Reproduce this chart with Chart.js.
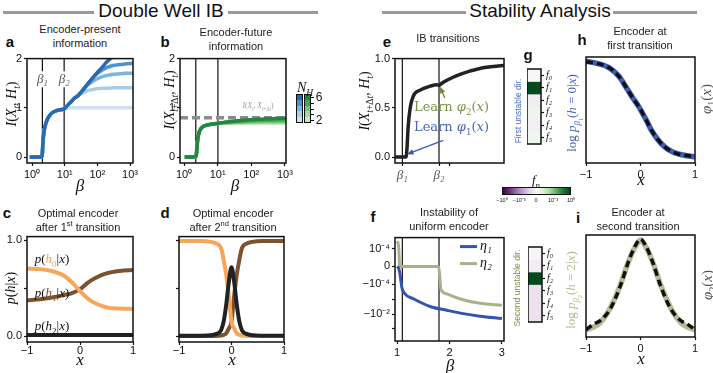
<!DOCTYPE html>
<html><head><meta charset="utf-8">
<script src="https://cdn.jsdelivr.net/npm/chart.js@4.4.1/dist/chart.umd.min.js"></script>
<style>
  body { margin:0; width:713px; height:373px; position:relative; overflow:hidden; background:#fff;
         font-family:"Liberation Sans", Arial, sans-serif; color:#111; }
  canvas { position:absolute; }
  .t { position:absolute; white-space:nowrap; transform:translate(-50%,-50%); line-height:14px; text-align:center; z-index:2; }
  .lt { transform:translate(0,-50%); }
  .rot { transform:translate(-50%,-50%) rotate(-90deg); }
  .m { font-family:"Liberation Serif", "DejaVu Serif", serif; }
  .dv { font-family:"DejaVu Serif", serif; }
  sub, sup { font-size:68%; line-height:0; }
  .ttl { font-size:11px; color:#222; }
  .pl { font-size:15px; font-weight:bold; }
  .hd { font-size:19px; color:#111; }
  .bar { position:absolute; height:3px; background:#9a9a9a; }
  .cb { position:absolute; border:1px solid #111; box-sizing:border-box; }
  .tk { position:absolute; width:3px; height:1px; background:#111; }
</style></head><body>

<div class="bar" style="left:3px;top:11px;width:91px"></div>
<div class="t hd" style="left:161px;top:11px">Double Well IB</div>
<div class="bar" style="left:228px;top:11px;width:90px"></div>
<div class="bar" style="left:382px;top:11px;width:84px"></div>
<div class="t hd" style="left:540px;top:11px">Stability Analysis</div>
<div class="bar" style="left:613px;top:11px;width:84px"></div>

<div class="t pl" style="left:10px;top:42px">a</div>
<div class="t pl" style="left:165px;top:42px">b</div>
<div class="t pl" style="left:7px;top:213px">c</div>
<div class="t pl" style="left:165px;top:213px">d</div>
<div class="t pl" style="left:387px;top:42px">e</div>
<div class="t pl" style="left:528px;top:55px">g</div>
<div class="t pl" style="left:582px;top:40px">h</div>
<div class="t pl" style="left:373px;top:217px">f</div>
<div class="t pl" style="left:578px;top:218px">i</div>

<div class="t ttl" style="left:80px;top:36px">Encoder-present<br>information</div>
<div class="t ttl" style="left:236px;top:39px">Encoder-future<br>information</div>
<div class="t ttl" style="left:78px;top:220px">Optimal encoder<br>after 1<sup>st</sup> transition</div>
<div class="t ttl" style="left:233px;top:220px">Optimal encoder<br>after 2<sup>nd</sup> transition</div>
<div class="t ttl" style="left:448px;top:38px">IB transitions</div>
<div class="t ttl" style="left:640px;top:38px">Encoder at<br>first transition</div>
<div class="t ttl" style="left:449px;top:219px">Instability of<br>uniform encoder</div>
<div class="t ttl" style="left:638px;top:219px">Encoder at<br>second transition</div>

<!-- axis labels -->
<div class="t m rot" style="left:12px;top:104px;font-size:14px"><i>I</i>(<i>X</i><sub><i>t</i></sub>, <i>H</i><sub><i>t</i></sub>)</div>
<div class="t m rot" style="left:170px;top:100px;font-size:14px"><i>I</i>(<i>X</i><sub><i>t</i>+Δ<i>t</i></sub>, <i>H</i><sub><i>t</i></sub>)</div>
<div class="t m rot" style="left:365px;top:101px;font-size:14px"><i>I</i>(<i>X</i><sub><i>t</i>+Δ<i>t</i></sub>, <i>H</i><sub><i>t</i></sub>)</div>
<div class="t m rot" style="left:11px;top:288px;font-size:14px"><i>p</i>(<i>h</i>|<i>x</i>)</div>
<div class="t m" style="left:80px;top:186px;font-size:17px"><i>β</i></div>
<div class="t m" style="left:235px;top:186px;font-size:17px"><i>β</i></div>
<div class="t m" style="left:80px;top:360px;font-size:17px"><i>x</i></div>
<div class="t m" style="left:232px;top:360px;font-size:17px"><i>x</i></div>
<div class="t m" style="left:450px;top:366px;font-size:17px"><i>β</i></div>
<div class="t m" style="left:641px;top:180px;font-size:17px"><i>x</i></div>
<div class="t m" style="left:641px;top:359px;font-size:17px"><i>x</i></div>
<div class="t m rot" style="left:573px;top:113px;font-size:13px;color:#4262b8">log <i>p</i><sub><i>β</i><sub>1</sub></sub>(<i>h</i> = 0|<i>x</i>)</div>
<div class="t m rot" style="left:706px;top:99px;font-size:15px;color:#555"><i>φ</i><sub>1</sub>(<i>x</i>)</div>
<div class="t m rot" style="left:572px;top:290px;font-size:13px;color:#b2ba90">log <i>p</i><sub><i>β</i><sub>2</sub></sub>(<i>h</i> = 2|<i>x</i>)</div>
<div class="t m rot" style="left:707px;top:285px;font-size:15px;color:#555"><i>φ</i><sub>2</sub>(<i>x</i>)</div>
<div class="t rot" style="left:518px;top:111px;font-size:8.5px;color:#5070c0">First unstable dir.</div>
<div class="t rot" style="left:517px;top:288px;font-size:8.5px;color:#7d9447">Second unstable dir.</div>

<!-- in-plot notes -->
<div class="t m" style="left:52px;top:259px;font-size:13px"><i>p</i>(<i style="color:#f5a35a">h</i><sub style="color:#f5a35a">0</sub>|<i>x</i>)</div>
<div class="t m" style="left:52px;top:293px;font-size:13px"><i>p</i>(<i style="color:#7a5331">h</i><sub style="color:#7a5331">1</sub>|<i>x</i>)</div>
<div class="t m" style="left:52px;top:326px;font-size:13px"><i>p</i>(<i>h</i><sub>2</sub>|<i>x</i>)</div>
<div class="t dv lt" style="left:414px;top:107px;font-size:13px;color:#7d9447">Learn <i>φ</i><sub>2</sub>(<i>x</i>)</div>
<div class="t dv lt" style="left:414px;top:127px;font-size:13px;color:#4a66bb">Learn <i>φ</i><sub>1</sub>(<i>x</i>)</div>
<div class="t m" style="left:258px;top:106px;font-size:7.5px;color:#999"><i>I</i>(<i>X</i><sub><i>t</i></sub>, <i>X</i><sub><i>t</i>+Δ<i>t</i></sub>)</div>

<!-- N_H colour bars -->
<div class="t m" style="left:305px;top:88px;font-size:14px"><i>N</i><sub><i>H</i></sub></div>
<div id="cbBlue" class="cb" style="left:296px;top:94px;width:7px;height:29px"></div>
<div id="cbGreen" class="cb" style="left:304px;top:94px;width:7px;height:29px"></div>
<div id="cbTicks"></div>
<div class="t" style="left:319px;top:97px;font-size:12px">6</div>
<div class="t" style="left:319px;top:120px;font-size:12px">2</div>

<!-- f_n colour bar -->
<div class="t m" style="left:536px;top:180px;font-size:13px"><i>f</i><sub><i>n</i></sub></div>
<div id="cbFn" class="cb" style="left:502px;top:187px;width:69px;height:8px"></div>
<div class="t" style="left:502px;top:200px;font-size:5.5px">−10⁰</div>
<div class="t" style="left:519px;top:200px;font-size:5.5px">−10⁻³</div>
<div class="t" style="left:536px;top:200px;font-size:5.5px">0</div>
<div class="t" style="left:553px;top:200px;font-size:5.5px">10⁻³</div>
<div class="t" style="left:571px;top:200px;font-size:5.5px">10⁰</div>

<script>
const SANS = '"Liberation Sans", Arial, sans-serif';
const SERIF = '"Liberation Serif", "DejaVu Serif", serif';

// ---------- data ----------
// panel a: encoder-present information, one curve per N_H (6 .. 2)
const betaA = [0.85, 1, 1.5, 1.9, 2.05, 2.15, 2.3, 2.6, 3, 3.5, 4, 5, 6.5, 8, 9.5, 11, 13, 16, 20, 25, 30, 40, 50, 70, 100, 150, 200, 300, 500, 700, 1000, 1250];
const infoA6 = [0,0,0,0,0.05,0.3,0.5,0.67,0.78,0.85,0.89,0.93,0.955,0.965,0.975,1.02,1.07,1.13,1.2,1.24,1.3,1.4,1.48,1.6,1.72,1.85,1.94,2.05,2.18,2.24,2.3,2.33];
const infoA5 = [0,0,0,0,0.05,0.3,0.5,0.67,0.78,0.85,0.89,0.93,0.955,0.965,0.975,1.02,1.07,1.13,1.2,1.24,1.3,1.4,1.48,1.6,1.7,1.78,1.82,1.86,1.88,1.89,1.9,1.9];
const infoA4 = [0,0,0,0,0.05,0.3,0.5,0.67,0.78,0.85,0.89,0.93,0.955,0.965,0.975,1.02,1.07,1.13,1.2,1.24,1.3,1.4,1.46,1.53,1.59,1.64,1.66,1.68,1.69,1.7,1.7,1.7];
const infoA3 = [0,0,0,0,0.05,0.3,0.5,0.67,0.78,0.85,0.89,0.93,0.955,0.965,0.975,1.02,1.07,1.13,1.2,1.24,1.28,1.32,1.35,1.37,1.39,1.4,1.4,1.41,1.41,1.41,1.41,1.41];
const infoA2 = [0,0,0,0,0.05,0.3,0.5,0.67,0.78,0.85,0.89,0.93,0.955,0.965,0.975,0.99,1.0,1.0,1.0,1.0,1.0,1.0,1.0,1.0,1.0,1.0,1.0,1.0,1.0,1.0,1.0,1.0];
const betaMarksA = [2.07, 9.6];

// panel b: encoder-future information
const betaB = [1.05, 1.5, 2.0, 2.3, 2.4, 2.55, 2.8, 3.2, 3.7, 4.5, 5.8, 8, 11, 15, 20, 30, 50, 100, 200, 400, 700, 1100];
const infoB6 = [0,0,0,0.02,0.15,0.35,0.5,0.58,0.62,0.645,0.66,0.675,0.69,0.705,0.715,0.73,0.745,0.76,0.77,0.78,0.785,0.79];
const infoB5 = [0,0,0,0.02,0.15,0.35,0.5,0.58,0.62,0.645,0.66,0.675,0.69,0.7,0.71,0.72,0.735,0.745,0.75,0.755,0.757,0.76];
const infoB4 = [0,0,0,0.02,0.15,0.35,0.5,0.58,0.62,0.645,0.66,0.675,0.69,0.695,0.7,0.705,0.71,0.72,0.725,0.73,0.73,0.73];
const infoB3 = [0,0,0,0.02,0.15,0.35,0.5,0.58,0.62,0.645,0.66,0.675,0.688,0.69,0.69,0.695,0.7,0.705,0.707,0.71,0.71,0.71];
const infoB2 = [0,0,0,0.02,0.15,0.35,0.5,0.58,0.62,0.645,0.66,0.675,0.685,0.683,0.683,0.683,0.683,0.683,0.683,0.683,0.683,0.683];
const futureInfo = 0.8;
const betaMarksB = [2.24, 10.2];

// panel c: optimal encoder after 1st transition
const xC = [-1, -0.75, -0.5, -0.3, -0.15, 0, 0.15, 0.3, 0.5, 0.75, 1];
const h0C = [0.706, 0.7, 0.675, 0.63, 0.56, 0.47, 0.39, 0.34, 0.3, 0.287, 0.284];
const h1C = [0.375, 0.385, 0.405, 0.43, 0.45, 0.49, 0.56, 0.61, 0.655, 0.68, 0.69];
const h2C = [0.01, 0.01, 0.01, 0.01, 0.01, 0.01, 0.01, 0.01, 0.01, 0.01, 0.01];

// panel d: optimal encoder after 2nd transition
const xD = [-1, -0.6, -0.4, -0.3, -0.2, -0.15, -0.1, -0.05, 0, 0.05, 0.1, 0.15, 0.2, 0.3, 0.4, 0.6, 1];
const h0D = [0.995, 0.993, 0.985, 0.97, 0.92, 0.8, 0.64, 0.42, 0.15, 0.08, 0.03, 0.012, 0.005, 0.002, 0.002, 0.002, 0.002];
const h1D = [0.002, 0.002, 0.002, 0.002, 0.005, 0.012, 0.03, 0.08, 0.15, 0.42, 0.64, 0.8, 0.92, 0.97, 0.985, 0.993, 0.995];
const h2D = [0.003, 0.004, 0.008, 0.02, 0.06, 0.15, 0.33, 0.57, 0.72, 0.57, 0.33, 0.15, 0.06, 0.02, 0.008, 0.004, 0.003];

// panel e: IB transitions
const betaE = [0.96, 1.1, 1.17, 1.19, 1.21, 1.25, 1.31, 1.44, 1.63, 1.76, 1.8, 1.84, 1.95, 2.2, 2.58, 3.04];
const infoE = [0, 0, 0, 0.1, 0.3, 0.5, 0.62, 0.68, 0.72, 0.735, 0.728, 0.745, 0.78, 0.84, 0.9, 0.93];
const betaMarksE = [1.1, 1.8];

// panel f: eigenvalues of the uniform encoder (symlog axis)
const betaF1 = [1.0, 1.03, 1.055, 1.09, 1.15, 1.31, 1.63, 1.95, 2.26, 2.58, 3.0];
const eta1 = [0, -0.1e-4, -0.42e-4, -1.6e-4, -4.4e-4, -9.4e-4, -3.1e-3, -5.6e-3, -9.4e-3, -1.4e-2, -2e-2];
const betaF2 = [1.01, 1.03, 1.05, 1.1, 1.4, 1.79, 1.81, 1.83, 1.86, 1.95, 2.26, 2.58, 3.0];
const eta2 = [3.2e-4, 1.2e-4, 0, 0, 0, 0, -0.4e-4, -1.6e-4, -3e-4, -4.4e-4, -1.1e-3, -1.9e-3, -2.6e-3];
const symTicksF = [1e-4, 0, -1e-4, -1e-3, -1e-2, -1e-1];
const symLabelsF = ['10⁻⁴', '0', '−10⁻⁴', '', '−10⁻²', ''];

// panels g: unstable directions, f_n components
const fnRows = ['f₀', 'f₁', 'f₂', 'f₃', 'f₄', 'f₅'];
const fnFirst = [0.00002, 0.7, -0.00012, 0.00012, -0.0001, 0.0001];
const fnSecond = [-0.00003, -0.00012, 0.7, -0.00025, -0.00025, -0.00025];

// panels h, i: encoders at the transitions
const xH = [-1, -0.8, -0.58, -0.4, -0.27, -0.15, -0.03, 0.1, 0.2, 0.32, 0.45, 0.57, 0.69, 0.85, 1];
const logp1 = [0.96, 0.94, 0.9, 0.82, 0.72, 0.62, 0.53, 0.41, 0.31, 0.22, 0.15, 0.11, 0.085, 0.068, 0.06];
const phi1 = [0.955, 0.94, 0.9, 0.82, 0.72, 0.62, 0.53, 0.41, 0.31, 0.22, 0.15, 0.11, 0.085, 0.07, 0.06];
const xI = [-1, -0.85, -0.74, -0.55, -0.37, -0.22, -0.09, 0, 0.09, 0.22, 0.37, 0.55, 0.74, 0.85, 1];
const logp2 = [0.07, 0.1, 0.14, 0.29, 0.51, 0.74, 0.89, 0.95, 0.89, 0.74, 0.51, 0.29, 0.14, 0.1, 0.07];
const phi2 = [0.07, 0.13, 0.16, 0.28, 0.5, 0.74, 0.9, 0.96, 0.9, 0.74, 0.5, 0.28, 0.16, 0.13, 0.07];

// colours
const blues = ['#2a69b0', '#5093ca', '#7db4dc', '#a9cce7', '#cfe1f1'];
const greens = ['#22873f', '#43a55a', '#74c27a', '#a3d79c', '#cbe8c3'];
const orange = '#f7a65c', brown = '#7a5331', dark = '#222';
const etaColors = ['#3553b0', '#a8b28a'];
const prgn = ['#40004b','#762a83','#9970ab','#c2a5cf','#e7d4e8','#f7f7f7','#d9f0d3','#a6dba0','#5aae61','#1b7837','#00441b'];

// colour map for f_n: symlog (linthresh 1e-3) onto PRGn
function fnColor(v) {
  const a = Math.abs(v);
  const s = a <= 1e-3 ? a / 1e-3 * 0.25 : 0.25 + 0.25 * (Math.log10(a) + 3) / 3;
  const p = Math.min(1, 0.5 + Math.sign(v) * s) * 10;
  const i = Math.min(9, Math.floor(p)), f = p - i;
  const h = c => [1, 3, 5].map(k => parseInt(c.substr(k, 2), 16));
  const c0 = h(prgn[i]), c1 = h(prgn[i + 1]);
  return 'rgb(' + c0.map((x, k) => Math.round(x + (c1[k] - x) * f)).join(',') + ')';
}

// legends made of divs
const stops = (cols, dir) => 'linear-gradient(' + dir + ',' + cols.map((c, i) => c + ' ' + (i * 20) + '%,' + c + ' ' + ((i + 1) * 20) + '%').join(',') + ')';
document.getElementById('cbBlue').style.background = stops(blues, 'to bottom');
document.getElementById('cbGreen').style.background = stops(greens, 'to bottom');
document.getElementById('cbTicks').innerHTML = [0,1,2,3,4].map(k => `<div class="tk" style="left:311px;top:${Math.round(94 + 29 * (k + 0.5) / 5)}px"></div>`).join('');
document.getElementById('cbFn').style.background = 'linear-gradient(to right,' + prgn.map((c, i) => c + ' ' + i * 10 + '%').join(',') + ')';

// ---------- symlog scale for panel f ----------
const LIN = 1e-4, LSC = 1.2;
function symT(v) { const a = Math.abs(v); return Math.sign(v) * (a <= LIN ? a / LIN * LSC : LSC + Math.log10(a / LIN)); }
function symInv(t) { const a = Math.abs(t); return Math.sign(t) * (a <= LSC ? a / LSC * LIN : LIN * Math.pow(10, a - LSC)); }
class SymlogScale extends Chart.LinearScale {
  getPixelForValue(v) {
    const t0 = symT(this.min), t1 = symT(this.max);
    return this.getPixelForDecimal((symT(v) - t0) / (t1 - t0));
  }
  getValueForPixel(p) {
    const t0 = symT(this.min), t1 = symT(this.max);
    return symInv(t0 + this.getDecimalForPixel(p) * (t1 - t0));
  }
}
SymlogScale.id = 'symlog';
SymlogScale.defaults = Chart.LinearScale.defaults;
Chart.register(SymlogScale);

// ---------- plugins ----------
const frame = {
  id: 'frame',
  afterDraw(ch) {
    const a = ch.chartArea, c = ch.ctx;
    c.save(); c.strokeStyle = '#111'; c.lineWidth = 1.5;
    c.strokeRect(a.left, a.top, a.right - a.left, a.bottom - a.top);
    c.restore();
  }
};
const marks = {
  id: 'marks',
  afterDatasetsDraw(ch, args, o) {
    const c = ch.ctx, sx = ch.scales.x, sy = ch.scales.y;
    (o.arrows || []).forEach(a => {
      const x0 = sx.getPixelForValue(a.from[0]), y0 = sy.getPixelForValue(a.from[1]);
      const x1 = sx.getPixelForValue(a.to[0]), y1 = sy.getPixelForValue(a.to[1]);
      const ang = Math.atan2(y1 - y0, x1 - x0);
      c.save(); c.strokeStyle = c.fillStyle = a.color; c.lineWidth = 1.3;
      c.beginPath(); c.moveTo(x0, y0); c.lineTo(x1 - 5 * Math.cos(ang), y1 - 5 * Math.sin(ang)); c.stroke();
      c.beginPath(); c.moveTo(x1, y1);
      c.lineTo(x1 - 7 * Math.cos(ang - 0.4), y1 - 7 * Math.sin(ang - 0.4));
      c.lineTo(x1 - 7 * Math.cos(ang + 0.4), y1 - 7 * Math.sin(ang + 0.4));
      c.closePath(); c.fill(); c.restore();
    });
    (o.texts || []).forEach(t => {
      const x = sx.getPixelForValue(t.x), y = sy.getPixelForValue(t.y);
      c.save(); c.font = t.font; c.textAlign = 'center'; c.textBaseline = 'middle';
      const w = c.measureText(t.text).width + 2;
      c.fillStyle = '#fff'; c.fillRect(x - w / 2, y - 8, w, 16);
      c.fillStyle = t.color; c.fillText(t.text, x, y); c.restore();
    });
    (o.legend || []).forEach((l, k) => {
      const a = ch.chartArea, y = a.top + 9 + 17 * k;
      c.save(); c.strokeStyle = l.color; c.lineWidth = 3;
      c.beginPath(); c.moveTo(a.right - 44, y); c.lineTo(a.right - 27, y); c.stroke();
      c.fillStyle = '#111'; c.font = 'italic 14px ' + SERIF; c.textBaseline = 'middle';
      c.fillText(l.text, a.right - 24, y); c.restore();
    });
  }
};

// ---------- helpers ----------
function series(xs, ys, color, width, more) {
  return Object.assign({ data: xs.map((x, i) => ({ x, y: ys[i] })), borderColor: color, borderWidth: width,
    pointRadius: 0, cubicInterpolationMode: 'monotone', fill: false }, more || {});
}
function vline(x, y0, y1) {
  return { data: [{ x, y: y0 }, { x, y: y1 }], borderColor: '#111', borderWidth: 1.2, pointRadius: 0 };
}
function axis(type, min, max, vals, labels, more, font, pad) {
  return Object.assign({
    type, min, max,
    border: { display: false },
    grid: { drawOnChartArea: false, tickLength: 3, tickColor: '#111', tickWidth: 1.2 },
    ticks: { color: (font && font.color) || '#111', font: (font && font.font) || { family: SANS, size: 11 },
             padding: pad ?? 2, maxRotation: 0, autoSkip: false, callback: (v, i) => labels[i] },
    afterBuildTicks: s => { s.ticks = vals.map(v => ({ value: v })); }
  }, more || {});
}
function panel(box, cfg) {
  const yW = cfg.yW || 0, xH = cfg.xH || 0, padL = cfg.padL || 0, padR = cfg.padR ?? 12, padT = 7, padB = cfg.padB || 0;
  const leftExt = cfg.yRight ? padL : yW + padL;
  const rightExt = cfg.yRight ? yW + padR : padR;
  const cv = document.createElement('canvas');
  cv.width = box[2] - box[0] + leftExt + rightExt;
  cv.height = box[3] - box[1] + padT + xH + padB;
  cv.style.left = (box[0] - leftExt) + 'px';
  cv.style.top = (box[1] - padT) + 'px';
  document.body.appendChild(cv);
  const o = cfg.options;
  o.responsive = false; o.animation = false; o.events = [];
  o.layout = { padding: { left: padL, right: padR, top: padT, bottom: padB } };
  o.plugins = Object.assign({ legend: { display: false }, tooltip: { enabled: false } }, o.plugins || {});
  o.scales.x.afterFit = s => { s.height = xH; };
  o.scales.y.afterFit = s => { s.width = yW; };
  return new Chart(cv, { type: cfg.type || 'line', data: cfg.data, options: o, plugins: [frame, marks] });
}
const betaFont = { font: { family: SERIF, size: 13, style: 'italic' }, color: '#555' };
const sub = ['₀', '₁', '₂'];

// ---------- a ----------
panel([27, 57, 133, 163], {
  yW: 27, xH: 24,
  data: { datasets: [
    series(betaA, infoA6, blues[0], 3.5), series(betaA, infoA5, blues[1], 3.5), series(betaA, infoA4, blues[2], 3.5),
    series(betaA, infoA3, blues[3], 3.5), series(betaA, infoA2, blues[4], 3.5),
    vline(betaMarksA[0], -0.12, 2), vline(betaMarksA[1], -0.12, 2)
  ] },
  options: {
    scales: {
      x: axis('logarithmic', 0.7, 1230, [1, 10, 100, 1000], ['10⁰', '10¹', '10²', '10³']),
      y: axis('linear', -0.12, 2, [0, 1, 2], ['0', '1', '2'])
    },
    plugins: { marks: { texts: betaMarksA.map((b, i) => ({ x: b, y: 1.58, text: 'β' + sub[i + 1], font: 'italic 13px ' + SERIF, color: '#555' })) } }
  }
});

// ---------- b ----------
panel([180, 57, 286, 163], {
  yW: 24, xH: 24,
  data: { datasets: [
    series(betaB, infoB6, greens[0], 3.5),
    { data: [{ x: 0.76, y: futureInfo }, { x: 1080, y: futureInfo }], borderColor: '#8c8c8c', borderWidth: 3.5, borderDash: [8, 4], pointRadius: 0 },
    series(betaB, infoB5, greens[1], 3.5), series(betaB, infoB4, greens[2], 3.5),
    series(betaB, infoB3, greens[3], 3.5), series(betaB, infoB2, greens[4], 3.5),
    vline(betaMarksB[0], -0.12, 2), vline(betaMarksB[1], -0.12, 2)
  ] },
  options: {
    scales: {
      x: axis('logarithmic', 0.76, 1080, [1, 10, 100, 1000], ['10⁰', '10¹', '10²', '10³']),
      y: axis('linear', -0.12, 2, [0, 1, 2], ['0', '1', '2'])
    }
  }
});

// ---------- c ----------
panel([27, 235, 133, 342], {
  yW: 27, xH: 18,
  data: { datasets: [
    series(xC, h2C, dark, 4), series(xC, h0C, orange, 4), series(xC, h1C, brown, 4)
  ] },
  options: {
    scales: {
      x: axis('linear', -1, 1, [-1, 0, 1], ['−1', '0', '1'], null, null, -1),
      y: axis('linear', -0.062, 1.04, [0, 0.5, 1], ['0.0', '', '1.0'])
    }
  }
});

// ---------- d ----------
panel([179, 235, 284, 342], {
  yW: 8, xH: 18,
  data: { datasets: [
    series(xD, h2D, dark, 4), series(xD, h0D, orange, 4), series(xD, h1D, brown, 4)
  ] },
  options: {
    scales: {
      x: axis('linear', -1, 1, [-1, 0, 1], ['−1', '0', '1'], null, null, -1),
      y: axis('linear', -0.062, 1.04, [0, 0.5, 1], ['', '', ''])
    }
  }
});

// ---------- e ----------
panel([395, 57, 504, 163], {
  yW: 32, xH: 24,
  data: { datasets: [
    series(betaE, infoE, dark, 3.5),
    vline(betaMarksE[0], -0.06, 1), vline(betaMarksE[1], -0.06, 1)
  ] },
  options: {
    scales: {
      x: axis('linear', 0.96, 3.04, [betaMarksE[0], betaMarksE[1], 2], ['β₁', 'β₂', ''], null, betaFont),
      y: axis('linear', -0.06, 1, [0, 0.5, 1], ['0.0', '0.5', '1.0'])
    },
    plugins: { marks: { arrows: [
      { from: [1.91, 0.6], to: [1.82, 0.715], color: '#6f8a35' },
      { from: [1.88, 0.17], to: [1.19, 0.03], color: '#3a5bb5' }
    ] } }
  }
});

// ---------- f ----------
panel([395, 236, 504, 341], {
  yW: 40, xH: 20,
  data: { datasets: [
    series(betaF1, eta1, etaColors[0], 3), series(betaF2, eta2, etaColors[1], 3),
    vline(betaMarksE[0], -0.65, 5.5e-4), vline(betaMarksE[1], -0.65, 5.5e-4)
  ] },
  options: {
    scales: {
      x: axis('linear', 0.96, 3.04, [1, 2, 3], ['1', '2', '3']),
      y: axis('symlog', -0.65, 5.5e-4, symTicksF, symLabelsF)
    },
    plugins: { marks: { legend: [{ text: 'η₁', color: etaColors[0] }, { text: 'η₂', color: etaColors[1] }] } }
  }
});

// ---------- g (two heat strips) ----------
function strip(box, vals) {
  panel(box, {
    type: 'bar', yRight: true, yW: 20, xH: 0, padR: 2, padB: 2,
    data: { labels: [''], datasets: vals.map(v => ({ data: [1], backgroundColor: fnColor(v), borderWidth: 0,
      barPercentage: 1, categoryPercentage: 1, stack: 'g' })) },
    options: {
      scales: {
        x: { type: 'category', display: false, stacked: true },
        y: axis('linear', 0, 6, [0.5, 1.5, 2.5, 3.5, 4.5, 5.5], fnRows, { reverse: true, stacked: true, position: 'right' },
                { font: { family: SERIF, size: 10, style: 'italic' }, color: '#111' })
      }
    }
  });
}
strip([527, 68, 541, 150], fnFirst);
strip([528, 246, 542, 328], fnSecond);

// ---------- h ----------
panel([586, 57, 695, 163], {
  yW: 0, xH: 24, padL: 10,
  data: { datasets: [
    series(xH, phi1, '#111', 3.5, { borderDash: [7, 4] }), series(xH, logp1, '#3d5db5', 5.5)
  ] },
  options: {
    scales: {
      x: axis('linear', -1, 1, [-1, 0, 1], ['−1', '0', '1']),
      y: axis('linear', 0, 1, [], [])
    }
  }
});

// ---------- i ----------
panel([586, 235, 695, 337], {
  yW: 0, xH: 22, padL: 10,
  data: { datasets: [
    series(xI, phi2, '#111', 3.5, { borderDash: [7, 4] }), series(xI, logp2, '#b4bc94', 5.5)
  ] },
  options: {
    scales: {
      x: axis('linear', -1, 1, [-1, 0, 1], ['−1', '0', '1']),
      y: axis('linear', 0, 1, [], [])
    }
  }
});
</script>
</body></html>
